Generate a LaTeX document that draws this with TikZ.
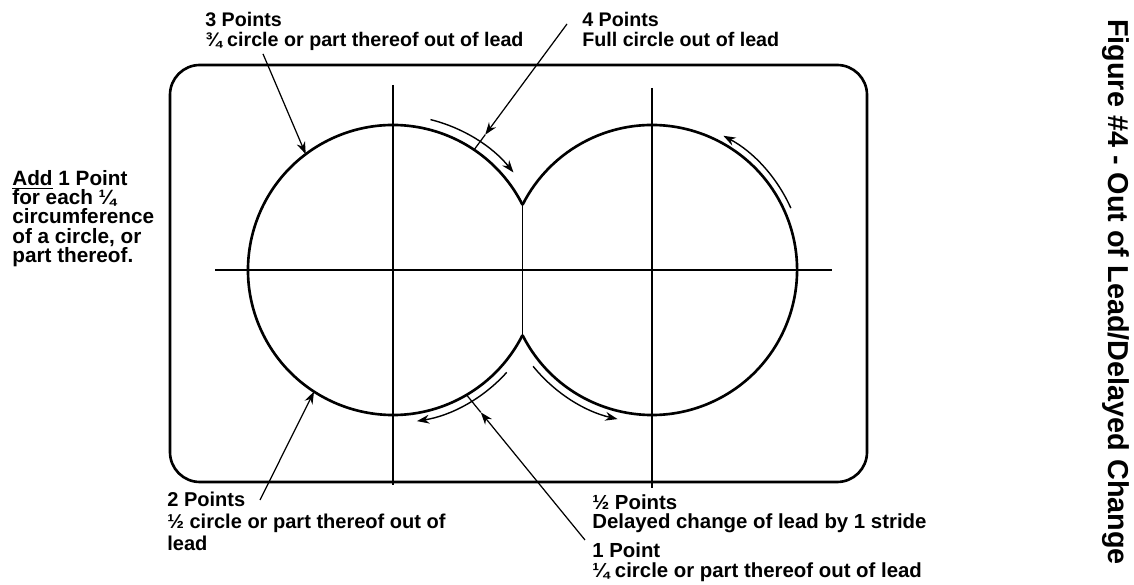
\documentclass[tikz,border=0pt]{standalone}
\usepackage{fontspec}
\setmainfont{Liberation Sans}
\usetikzlibrary{arrows.meta, calc}

\begin{document}
\begin{tikzpicture}[
    x=0.02cm, y=0.02cm,
    label style/.style={
        inner sep=0pt,
        anchor=north west,
        align=left,
        font=\fontsize{11.2}{11.3}\selectfont\bfseries
    },
    outline style/.style={
        line width=1.5pt
    },
    axis style/.style={
        line width=1.2pt
    },
    flow style/.style={
        line width=0.8pt,
        -{Stealth[length=7pt,width=5pt]}
    },
    pointer style/.style={
        line width=0.7pt,
        -{Stealth[length=7pt,width=5pt]}
    }
]

\useasboundingbox (0,0) rectangle (1134,585);

% Radius and centres
\def\radius{145}
\def\cusp{26.7}
\coordinate (L) at (393,315);
\coordinate (R) at (652,315);
\coordinate (top cusp) at ($(L)+(\cusp:\radius)$);
\coordinate (bottom cusp) at ($(L)+(-\cusp:\radius)$);

% Frame
\draw[outline style, rounded corners=17pt] (170,103) rectangle (867,520);

% Figure eight
\draw[outline style] (top cusp) arc[start angle=\cusp, end angle=360-\cusp, radius=\radius];
\draw[outline style] (bottom cusp) arc[start angle=-180+\cusp, end angle=180-\cusp, radius=\radius];
\draw[line width=0.5pt] (top cusp) -- (bottom cusp);

% Cross lines
\draw[axis style] (215,315) -- (832,315);
\draw[axis style] (393,500) -- (393,100);
\draw[axis style] (652,497) -- (652,97);

% Direction of travel
\draw[flow style] (L) ++(76:155) arc[start angle=76, end angle=39, radius=155];
\draw[flow style] (L) ++(-42:153) arc[start angle=-42, end angle=-81, radius=153];
\draw[flow style] (R) ++(219:153) arc[start angle=219, end angle=257, radius=153];
\draw[flow style] (R) ++(24:152) arc[start angle=24, end angle=62, radius=152];

% Labels
\node[label style] (three) at (205,573) {3 Points\\¾ circle or part thereof out of lead};
\node[label style] (four) at (582,573) {4 Points\\Full circle out of lead};
\node[label style, font=\fontsize{11.8}{10.95}\selectfont\bfseries] (add) at (12,415)
    {\underline{Add} 1 Point\\for each ¼\\circumference\\of a circle, or\\part thereof.};
\node[label style, font=\fontsize{11.4}{12.3}\selectfont\bfseries] (two) at (167,93)
    {2 Points\\½ circle or part thereof out of\\lead};
\node[label style, font=\fontsize{11.6}{11.3}\selectfont\bfseries] (one) at (592,91)
    {½ Points\\Delayed change of lead by 1 stride\\[5pt]1 Point\\¼ circle or part thereof out of lead};
\node[font=\fontsize{16.4}{18}\selectfont\bfseries, rotate=-90] (title) at (1116,293)
    {Figure \#4 - Out of Lead/Delayed Change};

% Pointers
\coordinate (p3) at ($(L)+(127:\radius)$);
\coordinate (p4) at ($(L)+(56:\radius)$);
\coordinate (p2) at ($(L)+(-123:\radius)$);
\coordinate (p1) at ($(L)+(-59.5:\radius)$);
\coordinate (s4) at ([shift={(-15,-12)}]four.north west);
\coordinate (s1) at ([shift={(-7,-46)}]one.north west);
\coordinate (a4) at ($(p4)!0.12!(s4)$);
\coordinate (a1) at ($(p1)!0.12!(s1)$);

\draw[pointer style] ([shift={(58,-3)}]three.south west) -- (p3);
\draw[pointer style] (s4) -- (a4);
\draw[line width=0.7pt] (a4) -- (p4);
\draw[pointer style] ([shift={(93,-8)}]two.north west) -- (p2);
\draw[pointer style] (s1) -- (a1);
\draw[line width=0.7pt] (a1) -- (p1);

\end{tikzpicture}
\end{document}
